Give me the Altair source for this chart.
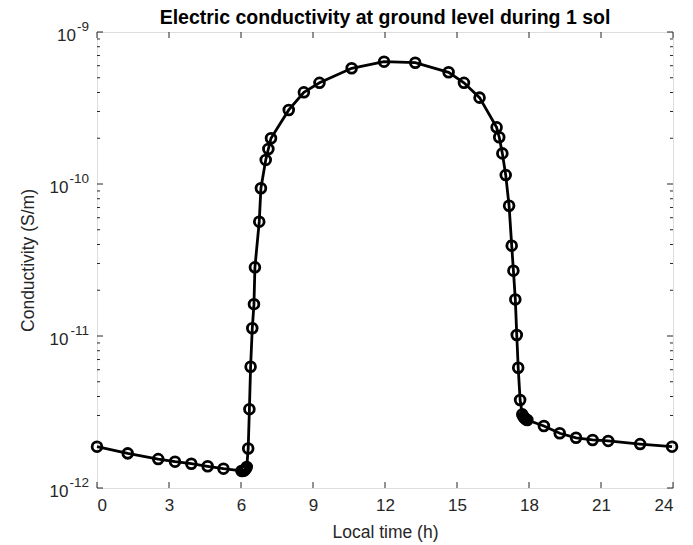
import altair as alt
import pandas as pd

# Local time (h) and conductivity (S/m)
hours = [0.00, 1.28, 2.55, 3.25, 3.93, 4.61, 5.27,
         6.02, 6.07, 6.12, 6.16, 6.20, 6.24,
         6.30, 6.35, 6.40, 6.47, 6.54, 6.58, 6.76, 6.83, 7.03, 7.14, 7.25,
         7.99, 8.62, 9.27, 10.61, 11.96, 13.26, 14.65, 15.29, 15.94,
         16.65, 16.76, 16.89, 17.03, 17.17, 17.28, 17.35, 17.43, 17.49, 17.55, 17.63,
         17.72, 17.77, 17.82, 17.87, 17.93,
         18.62, 19.28, 19.96, 20.65, 21.30, 22.63, 23.96]
conductivity = [1.87e-12, 1.69e-12, 1.55e-12, 1.49e-12, 1.445e-12, 1.39e-12, 1.34e-12,
                1.295e-12, 1.295e-12, 1.30e-12, 1.315e-12, 1.34e-12, 1.375e-12,
                1.82e-12, 3.30e-12, 6.28e-12, 1.125e-11, 1.62e-11, 2.83e-11, 5.65e-11, 9.38e-11,
                1.44e-10, 1.70e-10, 2.00e-10,
                3.07e-10, 4.01e-10, 4.63e-10, 5.77e-10, 6.38e-10, 6.28e-10, 5.43e-10, 4.63e-10, 3.70e-10,
                2.36e-10, 2.03e-10, 1.59e-10, 1.145e-10, 7.19e-11, 3.93e-11, 2.69e-11, 1.74e-11,
                1.016e-11, 6.18e-12, 3.79e-12,
                3.05e-12, 2.94e-12, 2.88e-12, 2.83e-12, 2.80e-12,
                2.56e-12, 2.29e-12, 2.14e-12, 2.07e-12, 2.04e-12, 1.945e-12, 1.87e-12]

x_ticks = [0, 3, 6, 9, 12, 15, 18, 21, 24]
y_major = [1e-12, 1e-11, 1e-10, 1e-9]
y_exponents = ["-12", "-11", "-10", "-9"]
y_minor = [m * 10.0 ** e for e in (-12, -11, -10) for m in range(2, 10)]

W, H = 576, 456
AX = "#262626"
FONT = "Liberation Sans, Arial, Helvetica, sans-serif"

df = pd.DataFrame({"hour": hours, "sigma": conductivity})
dfx = pd.DataFrame({"hour": x_ticks})
dfy = pd.DataFrame({"sigma": y_major, "exp": y_exponents})
dfm = pd.DataFrame({"sigma": y_minor})

xs = alt.Scale(domain=[0, 24], nice=False, zero=False)
ys = alt.Scale(type="log", domain=[1e-12, 1e-9], nice=False)

x_axis = alt.Axis(values=x_ticks, tickSize=0, domain=False, grid=False,
                  labelFontSize=17, labelColor=AX, labelPadding=9, labelFont=FONT,
                  title="Local time (h)", titleFontSize=17.5, titleFontWeight="normal",
                  titleColor=AX, titleFont=FONT, titleY=44, titleBaseline="middle")
y_axis = alt.Axis(values=y_major, labels=False, ticks=False, domain=False, grid=False,
                  title="Conductivity (S/m)", titleFontSize=17.5,
                  titleFontWeight="normal", titleColor=AX, titleFont=FONT,
                  titleX=-69, titleY=H / 2, titleAngle=-90, titleBaseline="middle",
                  titleAlign="center")

X = alt.X("hour:Q", scale=xs, axis=x_axis, title="Local time (h)")
Y = alt.Y("sigma:Q", scale=ys, axis=y_axis, title="Conductivity (S/m)")

base = alt.Chart(df)
line = base.mark_line(color="black", strokeWidth=2.8).encode(x=X, y=Y)
pts = base.mark_point(shape="circle", filled=False, color="black", size=95,
                      strokeWidth=2.8, opacity=1).encode(x=X, y=Y)

tick_style = dict(color=AX, strokeWidth=1)
xb = alt.Chart(dfx).mark_rule(**tick_style).encode(
    x=X, y=alt.value(H), y2=alt.value(H - 6))
xt = alt.Chart(dfx).mark_rule(**tick_style).encode(
    x=X, y=alt.value(0), y2=alt.value(6))
yl = alt.Chart(dfy).mark_rule(**tick_style).encode(
    y=Y, x=alt.value(0), x2=alt.value(6))
yr = alt.Chart(dfy).mark_rule(**tick_style).encode(
    y=Y, x=alt.value(W), x2=alt.value(W - 6))
ml = alt.Chart(dfm).mark_rule(**tick_style).encode(
    y=Y, x=alt.value(0), x2=alt.value(3))
mr = alt.Chart(dfm).mark_rule(**tick_style).encode(
    y=Y, x=alt.value(W), x2=alt.value(W - 3))

# y tick labels: base "10" plus a raised exponent
txt = dict(font=FONT, color=AX, baseline="middle", align="right")
exp_lab = alt.Chart(dfy).mark_text(fontSize=13.5, dy=-5, **txt).encode(
    y=Y, x=alt.value(-8), text="exp:N")
ten_long = alt.Chart(dfy).transform_filter("datum.sigma < 5e-10").mark_text(
    fontSize=17, dy=4, **txt).encode(y=Y, x=alt.value(-28.5), text=alt.value("10"))
ten_short = alt.Chart(dfy).transform_filter("datum.sigma > 5e-10").mark_text(
    fontSize=17, dy=4, **txt).encode(y=Y, x=alt.value(-21), text=alt.value("10"))

chart = alt.layer(line, pts, xb, xt, yl, yr, ml, mr, exp_lab, ten_long, ten_short).properties(
    width=W, height=H,
    title=alt.TitleParams("Electric conductivity at ground level during 1 sol",
                          fontSize=19.5, fontWeight="bold", font=FONT, color="black",
                          anchor="middle", offset=4, dy=12),
    padding={"left": 97, "top": 32, "right": 20, "bottom": 57},
    autosize=alt.AutoSizeParams(type="none"),
).configure_view(stroke=AX, strokeWidth=1).configure(background="white")

chart.save("out.html", embed_options={"renderer": "svg", "actions": False})
